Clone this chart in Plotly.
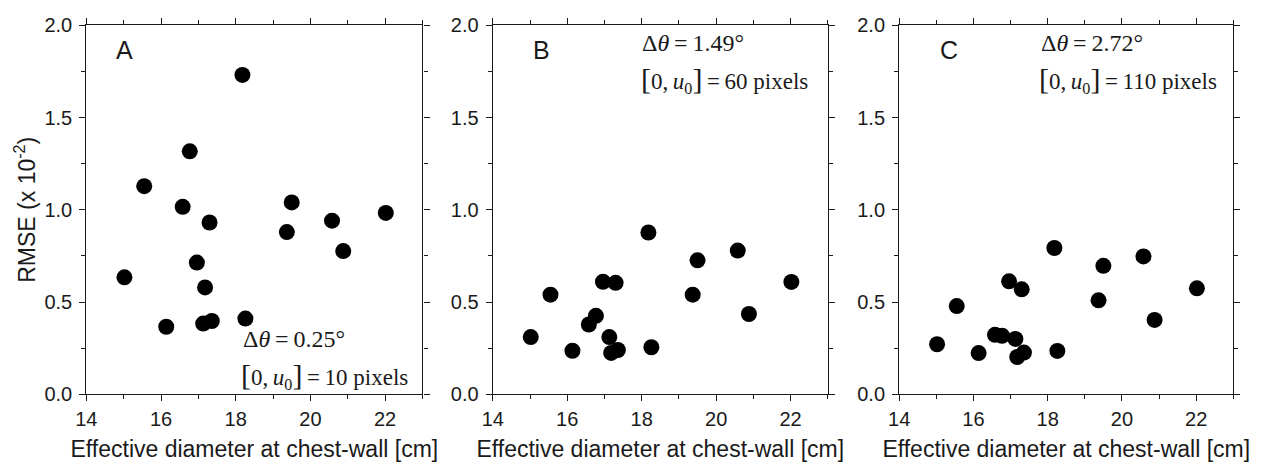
import plotly.graph_objects as go

# Effective diameter at chest-wall [cm] (same patients in every panel)
diameter = [15.02, 15.55, 16.14, 16.58, 16.77, 16.96, 17.13, 17.18, 17.36, 17.30,
            18.18, 18.26, 19.37, 19.50, 20.58, 20.88, 22.02]

# RMSE (x 10^-2) for each panel
rmse_a = [0.634, 1.128, 0.366, 1.016, 1.317, 0.714, 0.383, 0.579, 0.397, 0.931,
          1.731, 0.410, 0.879, 1.040, 0.941, 0.776, 0.983]
rmse_b = [0.310, 0.540, 0.236, 0.378, 0.425, 0.610, 0.310, 0.224, 0.240, 0.604,
          0.877, 0.255, 0.540, 0.726, 0.779, 0.435, 0.609]
rmse_c = [0.271, 0.478, 0.223, 0.322, 0.317, 0.612, 0.300, 0.202, 0.226, 0.569,
          0.793, 0.235, 0.509, 0.696, 0.747, 0.403, 0.574]

panel_labels = ["A", "B", "C"]
delta_theta = ["0.25°", "1.49°", "2.72°"]
u0_pixels = ["10", "60", "110"]

x_title = "Effective diameter at chest-wall [cm]"
y_title = "RMSE (x 10<sup>-2</sup>)"

W, H = 1266, 472
x_domains = [[76 / W, 415 / W], [486 / W, 824 / W], [896 / W, 1233 / W]]
y_domain = [70 / H, 457 / H]

AX_COLOR = "#1a1a1a"
TXT = "#1a1a1a"
SANS = "Liberation Sans, Arial, sans-serif"
SERIF = "Liberation Serif, Times New Roman, serif"

fig = go.Figure()
series = [rmse_a, rmse_b, rmse_c]
for i, ys in enumerate(series):
    n = "" if i == 0 else str(i + 1)
    fig.add_trace(go.Scatter(
        x=diameter, y=ys, mode="markers",
        marker=dict(color="black", size=16, line=dict(width=0)),
        xaxis="x" + n, yaxis="y" + n, showlegend=False,
    ))

layout = dict(
    width=W, height=H,
    margin=dict(l=0, r=0, t=0, b=0),
    paper_bgcolor="white", plot_bgcolor="white",
    font=dict(family=SANS, size=20, color=TXT),
    showlegend=False,
)

common_axis = dict(
    showgrid=False, zeroline=False,
    showline=True, linecolor=AX_COLOR, linewidth=1.3,
    mirror="ticks", ticks="outside", ticklen=6, tickwidth=1.2, tickcolor=AX_COLOR,
    tickfont=dict(family=SANS, size=20, color=TXT),
)

for i in range(3):
    n = "" if i == 0 else str(i + 1)
    xa = dict(common_axis)
    xa.update(
        domain=x_domains[i], range=[14, 23], anchor="y" + n,
        tickmode="array", tickvals=[14, 16, 18, 20, 22],
        minor=dict(dtick=1, tick0=14, ticks="outside", ticklen=4, tickwidth=1.2, tickcolor=AX_COLOR),
        title=dict(text=x_title, font=dict(family=SANS, size=23, color=TXT), standoff=11),
        ticklabelstandoff=1,
    )
    ya = dict(common_axis)
    ya.update(
        domain=y_domain, range=[0, 2.0], anchor="x" + n,
        tickmode="array", tickvals=[0, 0.5, 1.0, 1.5, 2.0],
        ticktext=["0.0", "0.5", "1.0", "1.5", "2.0"],
        minor=dict(dtick=0.25, tick0=0, ticks="outside", ticklen=4, tickwidth=1.2, tickcolor=AX_COLOR),
        ticklabelstandoff=3,
    )
    if i == 0:
        ya["title"] = dict(text=y_title, font=dict(family=SANS, size=23, color=TXT), standoff=2)
    layout["xaxis" + n] = xa
    layout["yaxis" + n] = ya

fig.update_layout(**layout)

# Panel letters
letter_pos = [(114, 41), (535, 41), (946, 41)]
for i, (px, py) in enumerate(letter_pos):
    fig.add_annotation(
        text=panel_labels[i], xref="paper", yref="paper",
        x=px / W, y=1 - py / H, xanchor="center", yanchor="middle",
        showarrow=False, font=dict(family=SANS, size=25, color=TXT),
    )

# Parameter annotations (left edge, centre y)
theta_pos = [(232, 344), (635, 34), (1037, 34)]
u0_pos = [(230, 382), (634, 72), (1035, 72)]
big = "<span style='font-size:30px'>"
thin = "\u2009"
for i in range(3):
    tx, ty = theta_pos[i]
    fig.add_annotation(
        text="Δ<i>θ</i>" + thin + "=" + thin + delta_theta[i], xref="paper", yref="paper",
        x=tx / W, y=1 - ty / H, xanchor="left", yanchor="middle",
        showarrow=False, font=dict(family=SERIF, size=24, color=TXT),
    )
    ux, uy = u0_pos[i]
    fig.add_annotation(
        text=big + "[</span>0," + thin + "<i>u</i><sub>0</sub>" + big + "]</span>" + thin + "=" + thin
             + u0_pixels[i] + " pixels",
        xref="paper", yref="paper",
        x=ux / W, y=1 - uy / H, xanchor="left", yanchor="middle",
        showarrow=False, font=dict(family=SERIF, size=23, color=TXT),
    )

fig.write_html("out.html")
